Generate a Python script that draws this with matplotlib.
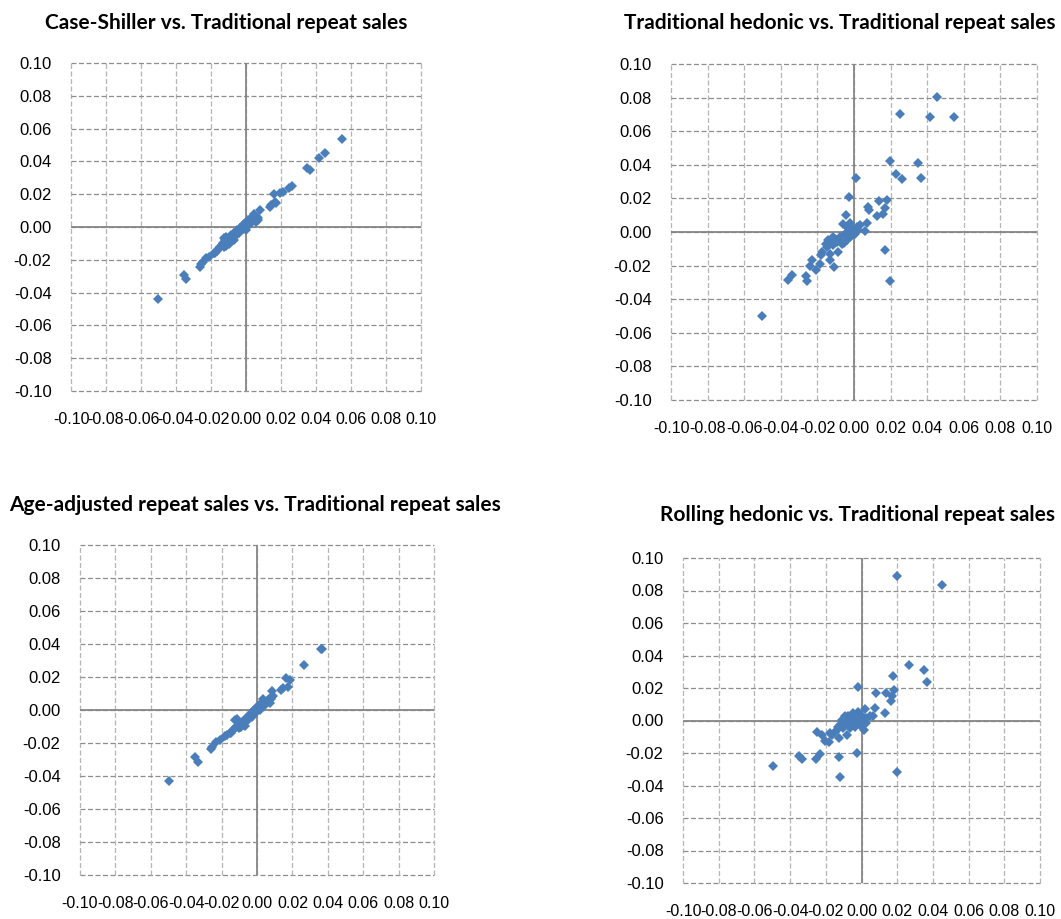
import matplotlib
matplotlib.use("Agg")
import matplotlib.pyplot as plt
import numpy as np

plt.rcParams['font.family'] = ['Lato', 'DejaVu Sans']

W, H = 1061, 919

tick_values = [-0.10, -0.08, -0.06, -0.04, -0.02, 0.00, 0.02, 0.04, 0.06, 0.08, 0.10]
tick_labels = ["-0.10", "-0.08", "-0.06", "-0.04", "-0.02", "0.00",
               "0.02", "0.04", "0.06", "0.08", "0.10"]

titles = [
    "Case-Shiller vs. Traditional repeat sales",
    "Traditional hedonic vs. Traditional repeat sales",
    "Age-adjusted repeat sales vs. Traditional repeat sales",
    "Rolling hedonic vs. Traditional repeat sales",
]

# Panel 1: Case-Shiller (y) vs Traditional repeat sales (x)
cs_x = [-0.0503, -0.0357, -0.0342, -0.0265, -0.0259, -0.0248, -0.0231, -0.0212, -0.0184,
        -0.0180, -0.0165, -0.0156, -0.0146, -0.0137, -0.0131, -0.0128, -0.0124, -0.0118,
        -0.0113, -0.0109, -0.0105, -0.0100, -0.0094, -0.0090, -0.0081, -0.0075, -0.0071,
        -0.0062, -0.0056, -0.0053, -0.0043, -0.0034, -0.0030, -0.0024, -0.0015, -0.0006,
        0.0000, 0.0004, 0.0013, 0.0013, 0.0023, 0.0032, 0.0041, 0.0051, 0.0060, 0.0069,
        0.0079, 0.0135, 0.0145, 0.0158, 0.0163, 0.0173, 0.0192, 0.0210, 0.0248, 0.0263,
        0.0351, 0.0364, 0.0417, 0.0454, 0.0548,
        -0.0124, -0.0113, -0.0100, -0.0086, -0.0071, -0.0053, -0.0038, -0.0019, -0.0011,
        0.0032, 0.0045, 0.0056, 0.0069, 0.0060]
cs_y = [-0.0439, -0.0292, -0.0319, -0.0242, -0.0225, -0.0211, -0.0191, -0.0181, -0.0160,
        -0.0156, -0.0144, -0.0130, -0.0120, -0.0110, -0.0099, -0.0120, -0.0104, -0.0079,
        -0.0059, -0.0089, -0.0079, -0.0069, -0.0083, -0.0099, -0.0059, -0.0069, -0.0039,
        -0.0049, -0.0028, -0.0018, -0.0035, -0.0008, -0.0018, 0.0002, 0.0012, 0.0002,
        -0.0018, 0.0022, 0.0006, 0.0043, 0.0032, 0.0063, 0.0043, 0.0063, 0.0043, 0.0053,
        0.0104, 0.0124, 0.0134, 0.0201, 0.0154, 0.0144, 0.0205, 0.0215, 0.0235, 0.0252,
        0.0357, 0.0347, 0.0418, 0.0449, 0.0538,
        -0.0069, -0.0116, -0.0104, -0.0049, -0.0079, -0.0043, -0.0039, -0.0014, 0.0018,
        0.0032, 0.0079, 0.0032, 0.0043, 0.0063]

# Panel 2: Traditional hedonic (y) vs Traditional repeat sales (x)
th_x = [0.0453, 0.0254, 0.0418, 0.0548, 0.0197, 0.0352, 0.0230, 0.0263, 0.0365, 0.0011,
        -0.0027, 0.0139, 0.0179, 0.0077, 0.0080, 0.0170, 0.0157, 0.0128, -0.0046, -0.0058,
        -0.0022, 0.0069, 0.0060, 0.0033, 0.0015, -0.0004, -0.0031, -0.0049, -0.0077, -0.0104,
        -0.0122, -0.0131, -0.0095, -0.0068, -0.0040, -0.0022, -0.0013, -0.0150, -0.0177,
        -0.0183, -0.0131, -0.0131, -0.0086, -0.0228, -0.0241, -0.0186, -0.0210, -0.0108,
        0.0170, 0.0199, -0.0341, -0.0358, -0.0263, -0.0259, -0.0502,
        -0.0141, -0.0117, -0.0091, -0.0113, -0.0153, -0.0055, -0.0031, 0.0005, 0.0024,
        -0.0022, -0.0037]
th_y = [0.0806, 0.0701, 0.0685, 0.0687, 0.0424, 0.0408, 0.0347, 0.0317, 0.0321, 0.0321,
        0.0210, 0.0184, 0.0192, 0.0149, 0.0129, 0.0145, 0.0109, 0.0095, 0.0103, 0.0046,
        0.0053, 0.0053, 0.0006, 0.0040, 0.0030, 0.0020, 0.0000, -0.0010, -0.0030, -0.0040,
        -0.0050, -0.0069, -0.0059, -0.0069, -0.0050, -0.0030, -0.0020, -0.0089, -0.0119,
        -0.0139, -0.0129, -0.0164, -0.0119, -0.0168, -0.0202, -0.0188, -0.0228, -0.0206,
        -0.0109, -0.0291, -0.0257, -0.0287, -0.0263, -0.0293, -0.0501,
        -0.0046, -0.0030, -0.0046, -0.0079, -0.0069, -0.0065, -0.0030, -0.0010, 0.0014,
        0.0020, 0.0030]

# Panel 3: Age-adjusted repeat sales (y) vs Traditional repeat sales (x)
aa_x = [-0.0498, -0.0351, -0.0332, -0.0261, -0.0254, -0.0229, -0.0210, -0.0178, -0.0154,
        -0.0135, -0.0111, -0.0116, -0.0098, -0.0079, -0.0069, -0.0051, -0.0032, -0.0017,
        -0.0004, 0.0009, 0.0034, 0.0053, 0.0071, 0.0085, 0.0081, 0.0133, 0.0146, 0.0175,
        0.0165, 0.0184, 0.0265, 0.0359, 0.0368,
        -0.0167, -0.0145, -0.0126, -0.0107, -0.0092, -0.0060, -0.0041, -0.0023, -0.0009,
        0.0015, 0.0024, 0.0043,
        -0.0122, -0.0103, -0.0088, -0.0079, -0.0069, -0.0051, -0.0028, -0.0017, 0.0006,
        0.0028, 0.0062, 0.0077, 0.0090]
aa_y = [-0.0428, -0.0283, -0.0317, -0.0238, -0.0222, -0.0192, -0.0182, -0.0158, -0.0137,
        -0.0121, -0.0057, -0.0101, -0.0105, -0.0091, -0.0061, -0.0040, -0.0020, 0.0000,
        0.0010, 0.0030, 0.0065, 0.0051, 0.0040, 0.0117, 0.0081, 0.0121, 0.0131, 0.0141,
        0.0192, 0.0182, 0.0273, 0.0372, 0.0368,
        -0.0152, -0.0141, -0.0111, -0.0097, -0.0081, -0.0051, -0.0036, -0.0030, -0.0016,
        0.0000, 0.0020, 0.0030,
        -0.0061, -0.0111, -0.0101, -0.0071, -0.0097, -0.0061, -0.0044, -0.0024, 0.0016,
        0.0044, 0.0061, 0.0065, 0.0085]

# Panel 4: Rolling hedonic (y) vs Traditional repeat sales (x)
rh_x = [0.0199, 0.0452, 0.0264, 0.0350, 0.0365, 0.0175, -0.0022, 0.0084, 0.0140, 0.0184,
        0.0173, 0.0164, 0.0074, 0.0134, 0.0065, 0.0019, -0.0019, -0.0047, -0.0074, -0.0102,
        -0.0121, -0.0084, -0.0056, -0.0028, -0.0009, 0.0009, 0.0028, 0.0046, -0.0009, 0.0013,
        -0.0037, -0.0065, -0.0140, -0.0167, -0.0177, -0.0125, -0.0084, -0.0251, -0.0223,
        -0.0205, -0.0180, -0.0233, -0.0255, -0.0348, -0.0335, -0.0125, -0.0024, -0.0123,
        0.0201, -0.0493,
        -0.0093, -0.0112, -0.0061, -0.0037, -0.0019, 0.0000, 0.0024, -0.0149, -0.0102, -0.0130]
rh_y = [0.0890, 0.0834, 0.0342, 0.0312, 0.0234, 0.0275, 0.0209, 0.0172, 0.0172, 0.0185,
        0.0148, 0.0117, 0.0076, 0.0049, 0.0029, 0.0070, 0.0055, 0.0045, 0.0025, -0.0006,
        -0.0027, -0.0016, -0.0006, 0.0014, 0.0035, 0.0004, 0.0014, 0.0025, -0.0027, -0.0057,
        -0.0037, -0.0047, -0.0057, -0.0088, -0.0078, -0.0109, -0.0088, -0.0072, -0.0088,
        -0.0125, -0.0135, -0.0205, -0.0236, -0.0217, -0.0238, -0.0223, -0.0203, -0.0349,
        -0.0318, -0.0277,
        0.0025, 0.0004, 0.0014, 0.0025, -0.0006, 0.0025, -0.0016, -0.0068, -0.0047, -0.0037]

series = [(cs_x, cs_y), (th_x, th_y), (aa_x, aa_y), (rh_x, rh_y)]

# axes boxes in pixels: left, right, top, bottom
boxes = [(71, 421, 63, 391), (671, 1037, 64, 400), (80, 434, 545, 875), (683, 1040, 558, 883)]
title_pos = [(226, 23), (840, 23), (255, 505), (857, 515)]

fig = plt.figure(figsize=(W / 100, H / 100), dpi=100)
fig.patch.set_facecolor('white')

tick_font = ['Liberation Sans', 'DejaVu Sans']

for (x, y), (l, r, t, b), title, (tx, ty) in zip(series, boxes, titles, title_pos):
    ax = fig.add_axes([l / W, 1 - b / H, (r - l) / W, (b - t) / H])
    ax.set_xlim(-0.10, 0.10)
    ax.set_ylim(-0.10, 0.10)
    for v in tick_values:
        ax.axhline(v, color='#8E8E8E', lw=0.9, ls=(0, (4, 2)), clip_on=False, zorder=1)
        ax.axvline(v, color='#B5B5B5', lw=0.9, ls=(0, (4, 2)), clip_on=False, zorder=1)
    ax.axhline(0, color='#868686', lw=1.3, zorder=2)
    ax.axvline(0, color='#868686', lw=1.3, zorder=2)
    for s in ax.spines.values():
        s.set_visible(False)
    ax.set_xticks(tick_values)
    ax.set_xticklabels(tick_labels, family=tick_font)
    ax.set_yticks(tick_values)
    ax.set_yticklabels(tick_labels, family=tick_font)
    ax.tick_params(axis='y', length=0, labelsize=12, pad=14, colors='black')
    ax.tick_params(axis='x', length=0, labelsize=11.5, pad=15, colors='black')
    ax.plot(x, y, 'D', color='#4A7EBB', ms=4.8, mew=0, zorder=3)
    fig.text(tx / W, 1 - ty / H, title, ha='center', va='center',
             fontsize=15, fontweight='bold')

fig.savefig('out.png', dpi=100)
